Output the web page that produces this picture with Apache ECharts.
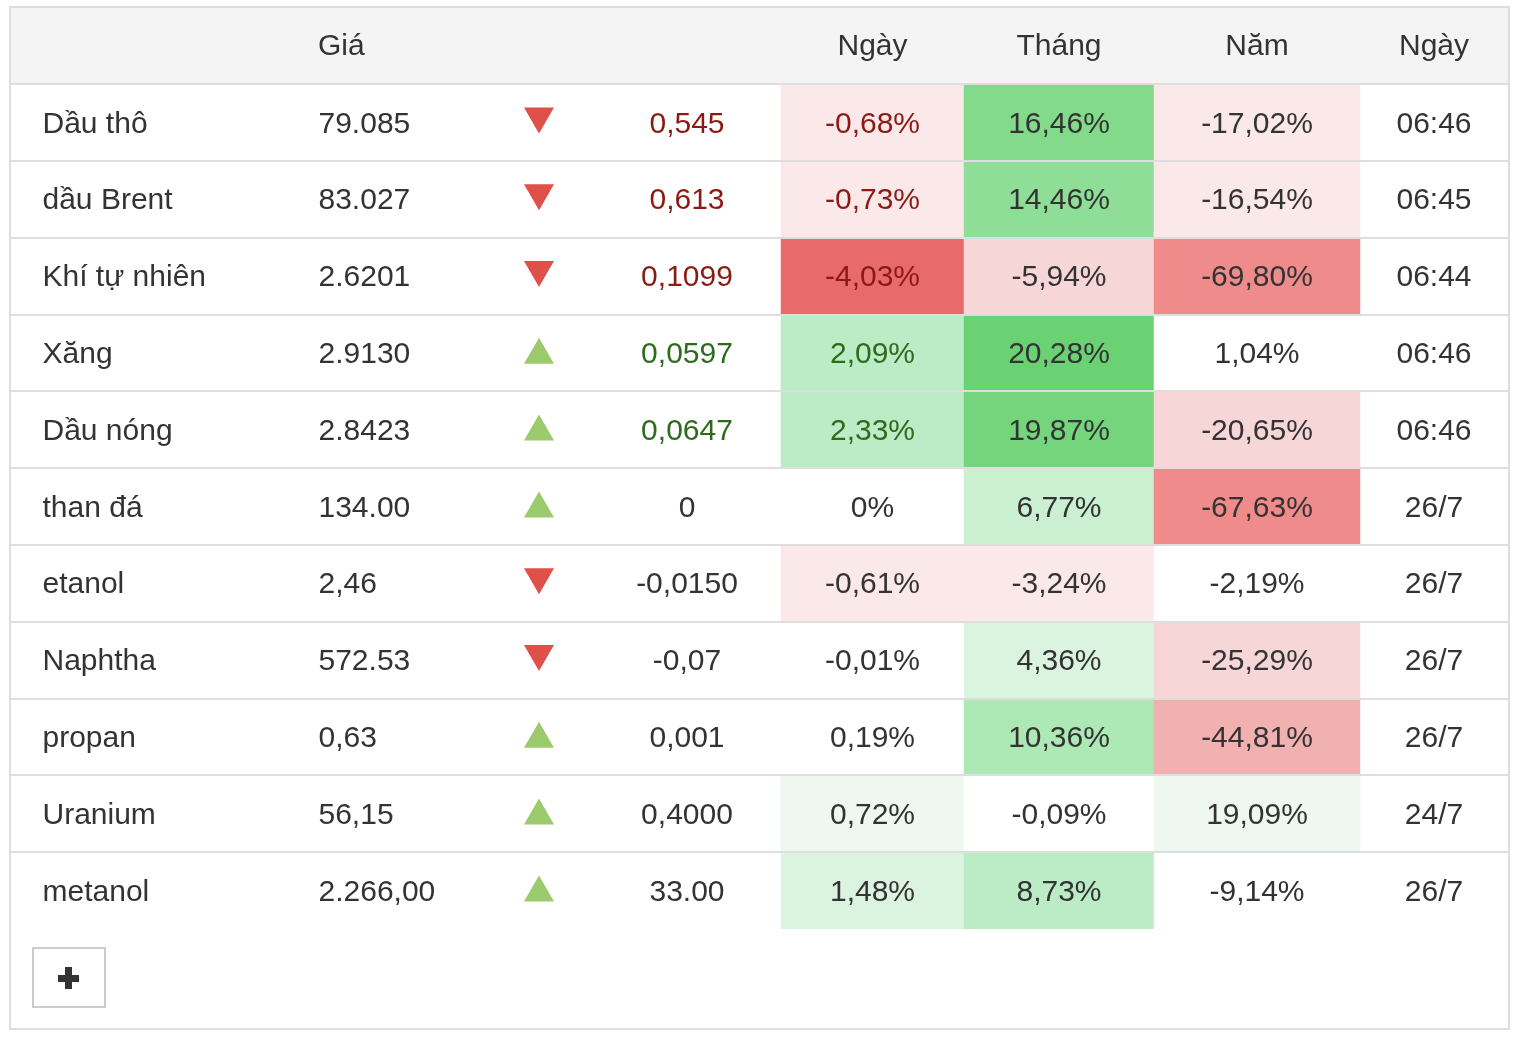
<!DOCTYPE html>
<html>
<head>
<meta charset="utf-8">
<script src="https://cdn.jsdelivr.net/npm/echarts@6/dist/echarts.min.js"></script>
<style>
html,body{margin:0;padding:0;background:#fff;}
#chart{width:1530px;height:1050px;}
</style>
</head>
<body>
<div id="chart"></div>
<script>
// ---- data ----
const names = ['Dầu thô','dầu Brent','Khí tự nhiên','Xăng','Dầu nóng','than đá','etanol','Naphtha','propan','Uranium','metanol'];
const prices = ['79.085','83.027','2.6201','2.9130','2.8423','134.00','2,46','572.53','0,63','56,15','2.266,00'];
const directions = ['down','down','down','up','up','up','down','down','up','up','up'];
const changes = ['0,545','0,613','0,1099','0,0597','0,0647','0','-0,0150','-0,07','0,001','0,4000','33.00'];
const dayPct = [-0.68,-0.73,-4.03,2.09,2.33,0,-0.61,-0.01,0.19,0.72,1.48];
const monthPct = [16.46,14.46,-5.94,20.28,19.87,6.77,-3.24,4.36,10.36,-0.09,8.73];
const yearPct = [-17.02,-16.54,-69.80,1.04,-20.65,-67.63,-2.19,-25.29,-44.81,19.09,-9.14];
const times = ['06:46','06:45','06:44','06:46','06:46','26/7','26/7','26/7','26/7','24/7','26/7'];
const liveRows = [true,true,true,true,true,false,false,false,false,false,false];
const headers = ['', 'Giá', '', '', 'Ngày', 'Tháng', 'Năm', 'Ngày'];

// ---- styling / layout ----
const FONT = '"Liberation Sans", Arial, Helvetica, sans-serif';
const TXT = '#333333';
const RED_TXT = '#8b1a14';
const GREEN_TXT = '#2e6b1e';
const TOP = 84, ROWH = 76.8;
const HEIGHT = ROWH * names.length;
const LBL_OFF = [0, 2];
// column layouts: [left, width, align]
const cols = [
  [41, 2, 'left'],
  [317, 2, 'left'],
  [509, 60, 'center'],
  [600, 174, 'center'],
  [781, 183, 'center'],
  [964, 190, 'center'],
  [1154, 206, 'center'],
  [1360, 148, 'center']
];

function fmtPct(v) {
  if (v === 0) return '0%';
  return v.toFixed(2).replace('.', ',') + '%';
}
function signColor(i, up) {
  if (!liveRows[i]) return TXT;
  return up ? GREEN_TXT : RED_TXT;
}

const grids = [], xAxes = [], yAxes = [];
cols.forEach((c, k) => {
  grids.push({left: c[0], width: c[1], top: TOP, height: HEIGHT});
  xAxes.push({
    gridIndex: k, type: 'category', data: [headers[k]], position: 'top',
    axisLine: {show: false}, axisTick: {show: false}, splitLine: {show: false},
    axisLabel: {show: true, color: TXT, fontSize: 30, fontFamily: FONT, margin: 37,
      verticalAlign: 'middle', align: c[2]}
  });
  yAxes.push({gridIndex: k, type: 'category', data: names, inverse: true, show: false});
});
// separator grid (row lines)
grids.push({left: 11, right: 22, top: TOP, height: HEIGHT});
xAxes.push({gridIndex: 8, type: 'value', show: false});
yAxes.push({
  gridIndex: 8, type: 'category', data: names, inverse: true, z: 10,
  axisLine: {show: false}, axisTick: {show: false}, axisLabel: {show: false},
  splitLine: {show: true, showMaxLine: false, lineStyle: {color: '#dedede', width: 2}}
});

const hidden = {color: 'rgba(0,0,0,0)', opacity: 1};
function textSeries(k, arr, colorFn, leftAlign) {
  return {
    type: 'scatter', xAxisIndex: k, yAxisIndex: k, symbolSize: 1, itemStyle: hidden,
    silent: true,
    data: arr.map((t, i) => ({
      value: [0, i],
      label: {color: colorFn ? colorFn(i) : TXT}
    })),
    label: {
      show: true, position: leftAlign ? 'right' : 'inside', distance: 0, offset: LBL_OFF,
      fontSize: 30, fontFamily: FONT, opacity: 1,
      formatter: p => arr[p.dataIndex]
    }
  };
}
function heatSeries(k, arr, colorFn) {
  return {
    type: 'heatmap', xAxisIndex: k, yAxisIndex: k, silent: true,
    data: arr.map((v, i) => ({
      value: [0, i, v],
      label: {color: colorFn ? colorFn(i, v) : TXT}
    })),
    label: {show: true, fontSize: 30, fontFamily: FONT, offset: LBL_OFF, formatter: p => fmtPct(p.value[2])},
    itemStyle: {borderWidth: 0}
  };
}

const series = [
  textSeries(0, names, null, true),
  textSeries(1, prices, null, true),
  {
    type: 'scatter', xAxisIndex: 2, yAxisIndex: 2, silent: true,
    symbol: 'triangle', symbolSize: [30, 26], symbolOffset: [0, -2],
    itemStyle: {opacity: 1},
    data: directions.map((d, i) => ({
      value: [0, i],
      symbolRotate: d === 'down' ? 180 : 0,
      itemStyle: {color: d === 'down' ? '#e0504a' : '#9ccb6d', opacity: 1}
    }))
  },
  textSeries(3, changes, i => signColor(i, directions[i] === 'up'), false),
  heatSeries(4, dayPct, (i, v) => v === 0 ? TXT : signColor(i, v > 0)),
  heatSeries(5, monthPct, null),
  heatSeries(6, yearPct, null),
  textSeries(7, times, null, false)
];

const W = '#ffffff';
const visualMap = [
  {type: 'piecewise', show: false, seriesIndex: 4, dimension: 2, pieces: [
    {lt: -2, color: '#e96a6a'},
    {gte: -2, lt: -0.5, color: '#fbe9e9'},
    {gte: -0.5, lte: 0.5, color: W},
    {gt: 0.5, lt: 1, color: '#eef8f0'},
    {gte: 1, lt: 2, color: '#dbf4df'},
    {gte: 2, color: '#bcecc5'}
  ]},
  {type: 'piecewise', show: false, seriesIndex: 5, dimension: 2, pieces: [
    {gte: 20, color: '#6bd273'},
    {gte: 18, lt: 20, color: '#75d57d'},
    {gte: 15, lt: 18, color: '#82da8a'},
    {gte: 12, lt: 15, color: '#8fde98'},
    {gte: 10, lt: 12, color: '#ace9b5'},
    {gte: 8, lt: 10, color: '#bcecc5'},
    {gte: 5, lt: 8, color: '#cbf0d1'},
    {gte: 1, lt: 5, color: '#dbf4df'},
    {gte: -1, lt: 1, color: W},
    {gte: -5, lt: -1, color: '#fbe9e9'},
    {gte: -10, lt: -5, color: '#f7d6d8'},
    {lt: -10, color: '#f2b1b1'}
  ]},
  {type: 'piecewise', show: false, seriesIndex: 6, dimension: 2, pieces: [
    {lt: -60, color: '#ef8b8b'},
    {gte: -60, lt: -30, color: '#f2b1b1'},
    {gte: -30, lt: -20, color: '#f7d6d8'},
    {gte: -20, lt: -10, color: '#fbe9e9'},
    {gte: -10, lte: 10, color: W},
    {gt: 10, color: '#eef8f0'}
  ]}
];

const chart = echarts.init(document.getElementById('chart'), null, {renderer: 'canvas'});
chart.setOption({
  backgroundColor: '#ffffff',
  animation: false,
  textStyle: {fontFamily: FONT},
  grid: grids,
  xAxis: xAxes,
  yAxis: yAxes,
  visualMap: visualMap,
  series: series,
  graphic: [
    {type: 'rect', z: -10, silent: true, shape: {x: 11, y: 8, width: 1497, height: 76}, style: {fill: '#f4f4f4'}},
    {type: 'rect', z: 100, silent: true, shape: {x: 10, y: 7, width: 1499, height: 1022}, style: {fill: null, stroke: '#dddddd', lineWidth: 2}},
    {type: 'rect', z: 100, silent: true, shape: {x: 33, y: 948, width: 72, height: 59}, style: {fill: '#ffffff', stroke: '#cccccc', lineWidth: 2}},
    {type: 'rect', z: 101, silent: true, shape: {x: 58, y: 975, width: 21, height: 7}, style: {fill: '#333333'}},
    {type: 'rect', z: 101, silent: true, shape: {x: 65, y: 967, width: 7, height: 22}, style: {fill: '#333333'}}
  ]
});
</script>
</body>
</html>
